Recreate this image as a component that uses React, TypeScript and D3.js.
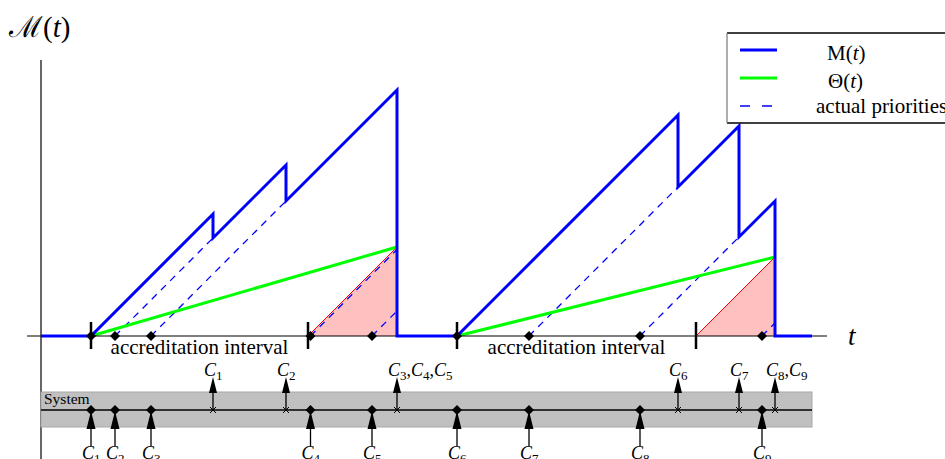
import React from 'react';
import * as d3 from 'd3';

const W = 945;
const H = 459;

// ---- data (time units) ----
const customerIds = [1, 2, 3, 4, 5, 6, 7, 8, 9];
const arrivalTimes = [5.0, 7.4, 11.0, 26.95, 33.1, 41.6, 48.8, 59.9, 72.1];
const departureTimes = [17.2, 24.5, 35.6, 35.6, 35.6, 63.7, 69.8, 73.4, 73.4];
const intervalStarts = [5.0, 26.7, 41.6, 65.5];
const busyStarts = [5.0, 41.6];
const busyEnds = [35.6, 73.4];
const timeEnd = 77.1;
const axisStart = -1.4;
const axisEnd = 78.6;
const yTop = 27.6;

const legendLabels = ['M', 'Θ', 'actual priorities'];

const FONT = "'Liberation Serif', 'Times New Roman', serif";

export default function App() {
  const x = d3.scaleLinear().domain([0, 80]).range([41, 841]);
  const y = d3.scaleLinear().domain([0, yTop]).range([336, 60]);
  const y0 = y(0);

  // M(t) path
  const mPts: [number, number][] = [[0, 0]];
  busyStarts.forEach((s, bi) => {
    const e = busyEnds[bi];
    mPts.push([s, 0]);
    const deps = Array.from(new Set(departureTimes.filter(d => d > s && d <= e))).sort((a, b) => a - b);
    deps.forEach(d => {
      const before = customerIds.map((_, i) => i).filter(i => arrivalTimes[i] >= s && arrivalTimes[i] <= d && departureTimes[i] >= d);
      const after = before.filter(i => departureTimes[i] > d);
      const oldB = d3.min(before, i => arrivalTimes[i]) as number;
      mPts.push([d, d - oldB]);
      if (after.length) {
        const oldA = d3.min(after, i => arrivalTimes[i]) as number;
        mPts.push([d, d - oldA]);
      } else {
        mPts.push([d, 0]);
      }
    });
  });
  mPts.push([timeEnd, 0]);
  const line = d3.line<[number, number]>().x(d => x(d[0])).y(d => y(d[1]));

  // Theta and pink triangles
  const thetas = busyStarts.map((s, bi) => {
    const e = busyEnds[bi];
    const next = intervalStarts.filter(t => t > s && t < e);
    const ns = next[next.length - 1];
    return { s, e, ns, v: e - ns };
  });

  // departure groups
  const depGroups = Array.from(d3.group(customerIds.map((id, i) => ({ id, t: departureTimes[i] })), d => d.t))
    .map(([t, arr]) => ({ t, ids: arr.map(a => a.id) }));

  const sysY = 410;

  const renderC = (ids: number[]) => {
    const out: any[] = [];
    ids.forEach((id, k) => {
      if (k > 0) out.push(<tspan key={'c' + k} dy={-4} fontStyle="normal">,</tspan>);
      out.push(<tspan key={'C' + k} fontStyle="italic">C</tspan>);
      out.push(<tspan key={'s' + k} fontSize={13} dy={4}>{id}</tspan>);
    });
    return out;
  };

  return (
    <svg width={W} height={H} style={{ position: 'absolute', left: 0, top: 0, background: '#fff' }} fontFamily={FONT}>
      {/* y axis */}
      <line x1={x(0)} x2={x(0)} y1={y(yTop)} y2={H} stroke="#000" strokeWidth={1.2} />
      {/* top-left label */}
      <text x={9} y={37} fontSize={29}>
        <tspan fontFamily="'DejaVu Serif', serif">ℳ</tspan>
        <tspan>(</tspan><tspan fontStyle="italic">t</tspan><tspan>)</tspan>
      </text>

      {/* pink triangles */}
      {thetas.map((th, i) => (
        <g key={'tri' + i}>
          <polygon
            points={[[th.ns, 0], [th.e, th.v], [th.e, 0]].map(p => `${x(p[0])},${y(p[1])}`).join(' ')}
            fill="#ffc0c0"
          />
          <line x1={x(th.ns)} y1={y(0)} x2={x(th.e)} y2={y(th.v)} stroke="#ff0000" strokeWidth={1} />
        </g>
      ))}

      {/* dashed priorities */}
      {customerIds.map((id, i) => (
        <line key={'pr' + id}
          x1={x(arrivalTimes[i])} y1={y(0)}
          x2={x(departureTimes[i])} y2={y(departureTimes[i] - arrivalTimes[i])}
          stroke="#0000ff" strokeWidth={1.3} strokeDasharray="7,6" />
      ))}

      {/* theta */}
      {thetas.map((th, i) => (
        <line key={'th' + i} x1={x(th.s)} y1={y(0)} x2={x(th.e)} y2={y(th.v)} stroke="#00ff00" strokeWidth={3} />
      ))}

      {/* t axis */}
      <line x1={x(axisStart)} x2={x(axisEnd)} y1={y0} y2={y0} stroke="#000" strokeWidth={1.2} />
      <text x={848} y={345} fontSize={27} fontStyle="italic">t</text>

      {/* M(t) */}
      <path d={line(mPts) || ''} fill="none" stroke="#0000ff" strokeWidth={3} strokeLinejoin="miter" />

      {/* accreditation interval ticks */}
      {intervalStarts.map((t, i) => (
        <line key={'tk' + i} x1={x(t)} x2={x(t)} y1={y0 - 14} y2={y0 + 13} stroke="#000" strokeWidth={2.5} />
      ))}
      {[0, 2].map(i => (
        <text key={'ai' + i} x={(x(intervalStarts[i]) + x(intervalStarts[i + 1])) / 2} y={354}
          fontSize={21} textAnchor="middle">accreditation interval</text>
      ))}

      {/* diamonds on t axis */}
      {arrivalTimes.map((t, i) => (
        <path key={'dm' + i} d={`M${x(t)},${y0 - 5}L${x(t) + 5},${y0}L${x(t)},${y0 + 5}L${x(t) - 5},${y0}Z`} fill="#000" />
      ))}

      {/* system band */}
      <rect x={x(0)} y={392} width={x(timeEnd) - x(0)} height={35} fill="#c0c0c0" stroke="#a8a8a8" strokeWidth={1} />
      <text x={44} y={404} fontSize={15.5}>System</text>
      <line x1={x(0)} x2={x(timeEnd)} y1={sysY} y2={sysY} stroke="#000" strokeWidth={1.5} />

      {/* departures */}
      {depGroups.map((g, i) => {
        const px = x(g.t);
        return (
          <g key={'dep' + i}>
            <line x1={px} x2={px} y1={sysY} y2={391} stroke="#000" strokeWidth={1.3} />
            <polygon points={`${px},377 ${px + 4},393 ${px - 4},393`} fill="#000" />
            <path d={`M${px - 3},${sysY - 3}L${px + 3},${sysY + 3}M${px - 3},${sysY + 3}L${px + 3},${sysY - 3}`} stroke="#000" strokeWidth={1} />
            <text x={px - 9} y={376} fontSize={18}>{renderC(g.ids)}</text>
          </g>
        );
      })}

      {/* arrivals */}
      {arrivalTimes.map((t, i) => {
        const px = x(t);
        return (
          <g key={'arr' + i}>
            <path d={`M${px},${sysY - 5}L${px + 5},${sysY}L${px},${sysY + 5}L${px - 5},${sysY}Z`} fill="#000" />
            <line x1={px} x2={px} y1={428} y2={446} stroke="#000" strokeWidth={1.3} />
            <polygon points={`${px},411 ${px + 4.5},429 ${px - 4.5},429`} fill="#000" />
            <text x={px - 9} y={459} fontSize={18}>{renderC([customerIds[i]])}</text>
          </g>
        );
      })}

      {/* legend */}
      <g>
        <rect x={727} y={33} width={230} height={90} fill="#fff" stroke="none" />
        <line x1={727} x2={945} y1={33} y2={33} stroke="#000" strokeWidth={1.3} />
        <line x1={727} x2={945} y1={123} y2={123} stroke="#000" strokeWidth={1.3} />
        <line x1={727} x2={727} y1={33} y2={123} stroke="#808080" strokeWidth={1.3} />
        <line x1={740} x2={777} y1={50} y2={50} stroke="#0000ff" strokeWidth={3} />
        <line x1={740} x2={777} y1={78} y2={78} stroke="#00ff00" strokeWidth={3} />
        <line x1={740} x2={777} y1={106} y2={106} stroke="#0000ff" strokeWidth={1.5} strokeDasharray="10,12" />
        <text x={827} y={60} fontSize={21}>{legendLabels[0]}(<tspan fontStyle="italic">t</tspan>)</text>
        <text x={828} y={88} fontSize={21}>{legendLabels[1]}(<tspan fontStyle="italic">t</tspan>)</text>
        <text x={816} y={113} fontSize={21}>{legendLabels[2]}</text>
      </g>
    </svg>
  );
}
